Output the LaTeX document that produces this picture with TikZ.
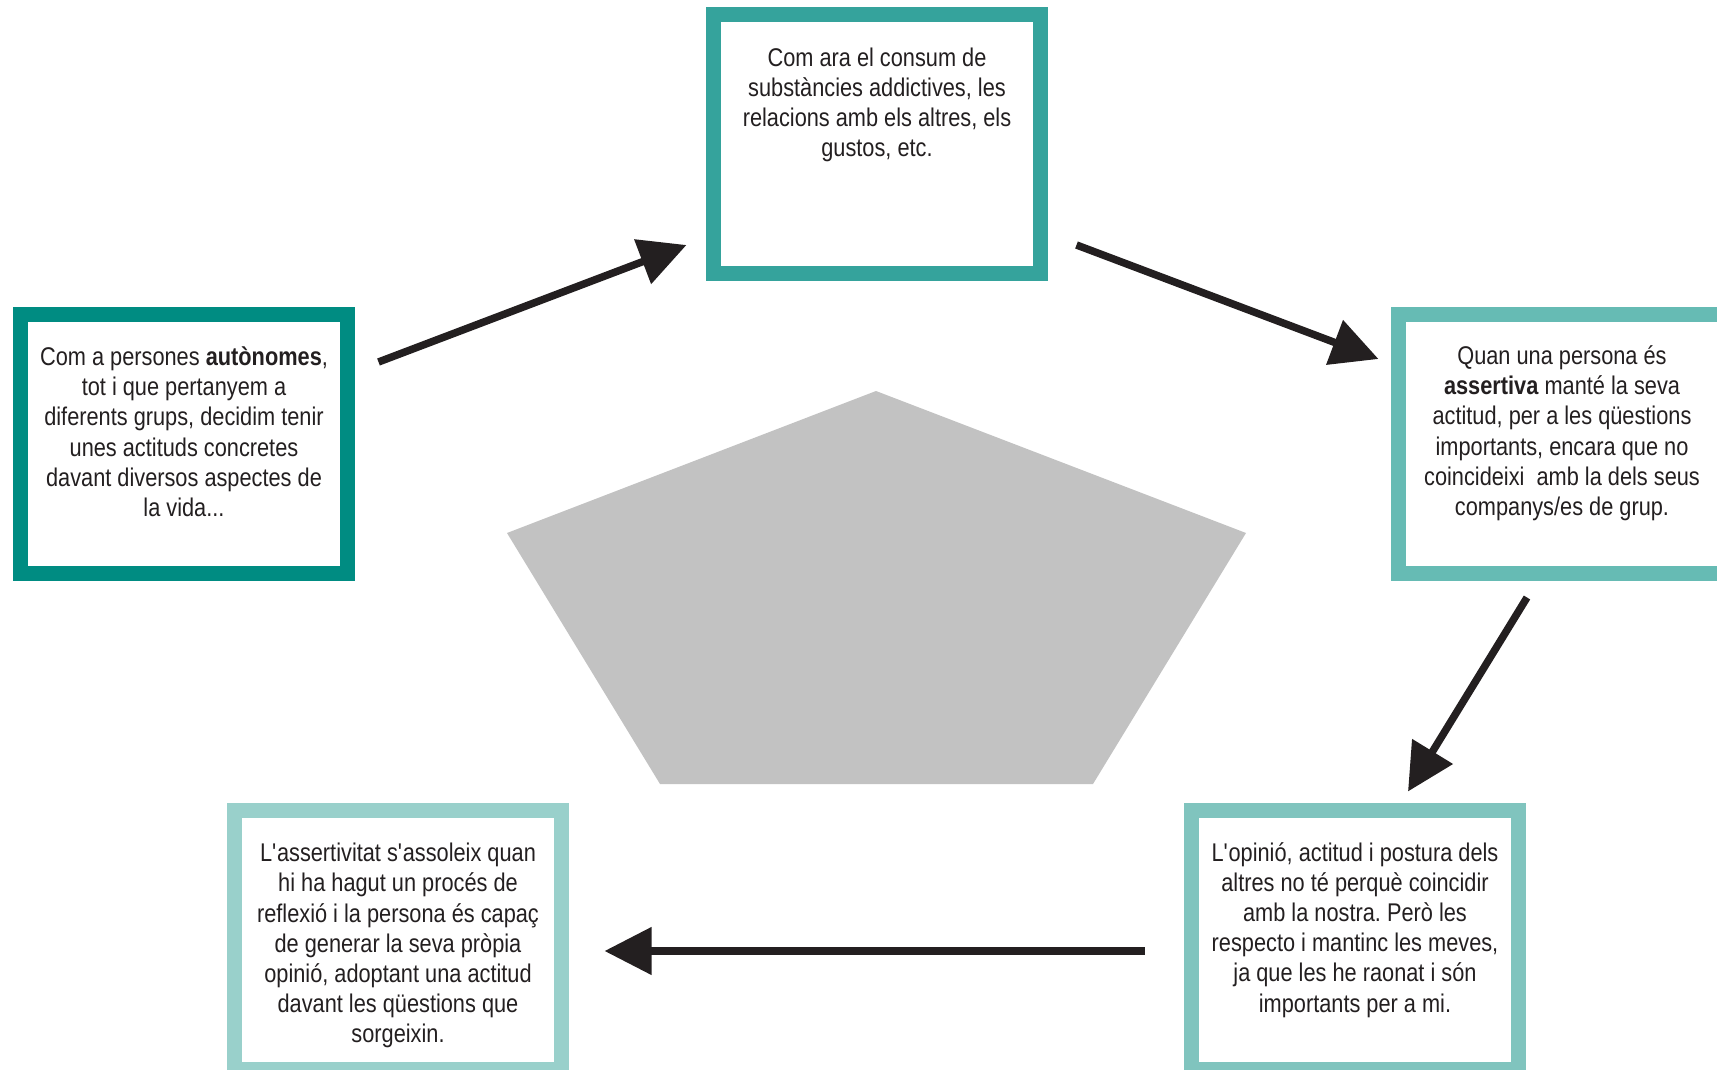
\documentclass[tikz,border=0pt]{standalone}
\usepackage{fontspec}
\setmainfont{Liberation Sans}[FakeStretch=0.85]
\frenchspacing
\usetikzlibrary{positioning,calc,arrows.meta}
\definecolor{ink}{RGB}{35,31,32}
\definecolor{tealA}{RGB}{0,140,130}
\definecolor{tealB}{RGB}{53,163,156}
\definecolor{tealC}{RGB}{102,187,180}
\definecolor{tealD}{RGB}{128,196,190}
\definecolor{tealE}{RGB}{153,208,203}
\definecolor{penta}{RGB}{194,194,194}
\tikzset{
  box/.style={draw, line width=15pt, fill=white, shape=rectangle, minimum width=327pt, minimum height=259pt, inner sep=0pt, outer sep=0pt},
  txt/.style={anchor=north, inner sep=0pt, align=center, text=ink, font=\fontsize{25.6}{30.2}\selectfont},
  arr/.style={draw=ink, line width=7.5pt, -{Triangle[length=47pt,width=46pt]}}
}

\begin{document}
\begin{tikzpicture}[x=1pt, y=-1pt]
        \clip (0,0) rectangle (1717,1070);
        \fill[penta] (876,391) -- (1246,533) -- (1093,784) -- (660,784) -- (507,533) -- cycle;

        \node[box, draw=tealA] (b1) at (184,444) {};
        \node[box, draw=tealB] (b2) at (877,144) {};
        \node[box, draw=tealC] (b3) at (1562,444) {};
        \node[box, draw=tealD] (b4) at (1355,940) {};
        \node[box, draw=tealE] (b5) at (398,940) {};

        \node[txt] (t1) at ($(b1.north)+(0,32)$) {Com a persones \textbf{autònomes},\\ tot i que pertanyem a\\ diferents grups, decidim tenir\\ unes actituds concretes\\ davant diversos aspectes de\\ la vida...};
        \node[txt] (t2) at ($(b2.north)+(0,33)$) {Com ara el consum de\\ substàncies addictives, les\\ relacions amb els altres, els\\ gustos, etc.};
        \node[txt] (t3) at ($(b3.north)+(0,31)$) {Quan una persona és\\ \textbf{assertiva} manté la seva\\ actitud, per a les qüestions\\ importants, encara que no\\ coincideixi\ \ amb la dels seus\\ companys/es de grup.};
        \node[txt] (t4) at ($(b4.north)+(0,31.5)$) {L\textquotesingle opinió, actitud i postura dels\\ altres no té perquè coincidir\\ amb la nostra. Però les\\ respecto i mantinc les meves,\\ ja que les he raonat i són\\ importants per a mi.};
        \node[txt] (t5) at ($(b5.north)+(0,32.5)$) {L\textquotesingle assertivitat s\textquotesingle assoleix quan\\ hi ha hagut un procés de\\ reflexió i la persona és capaç\\ de generar la seva pròpia\\ opinió, adoptant una actitud\\ davant les qüestions que\\ sorgeixin.};

        \draw[arr] ($(b1.east)+(31,-82)$) -- ($(b2.west)+(-27,101)$);
        \draw[arr] ($(b2.east)+(36,101)$) -- ($(b3.west)+(-20,-85)$);
        \draw[arr] ($(b3.south)+(-35,24)$) -- ($(b4.north)+(53,-19)$);
        \draw[arr] ($(b4.west)+(-47,11)$) -- ($(b5.east)+(43,11)$);
\end{tikzpicture}
\end{document}
